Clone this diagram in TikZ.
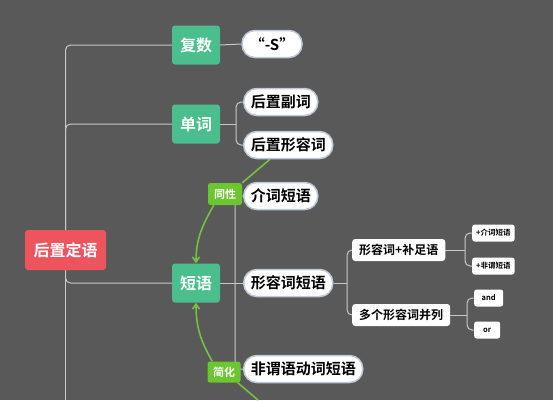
\documentclass[tikz,border=0pt]{standalone}
\usepackage{fontspec}
\setmainfont{Noto Sans CJK SC}[BoldFont={Noto Sans CJK SC Bold}]
\usetikzlibrary{calc,backgrounds,arrows.meta}
\definecolor{bg}{RGB}{89,89,89}
\definecolor{rootred}{RGB}{238,84,94}
\definecolor{catgreen}{RGB}{74,190,140}
\definecolor{taggreen}{RGB}{108,198,48}
\definecolor{linegreen}{RGB}{118,192,66}
\definecolor{conngray}{RGB}{200,200,200}
\definecolor{pillborder}{RGB}{190,200,214}
\tikzset{
  rootbox/.style={fill=rootred,rounded corners=3pt,text=white,font=\bfseries\fontsize{16}{16}\selectfont,minimum width=81pt,minimum height=40pt,inner sep=0pt},
  catbox/.style={fill=catgreen,rounded corners=3pt,text=white,font=\bfseries\fontsize{16}{16}\selectfont,minimum width=48pt,minimum height=39pt,inner sep=0pt},
  pill/.style={fill=white,draw=pillborder,line width=1.5pt,rounded corners=13pt,text=black,font=\bfseries\fontsize{15}{15}\selectfont,minimum height=27pt,inner xsep=7pt,inner ysep=0pt},
  midbox/.style={fill=white,rounded corners=3pt,text=black,font=\bfseries\fontsize{12}{12}\selectfont,minimum height=22pt,inner xsep=7pt,inner ysep=0pt},
  tinybox/.style={fill=white,rounded corners=2.5pt,text=black,font=\bfseries\fontsize{7.5}{7.5}\selectfont,minimum height=17pt,inner xsep=4pt,inner ysep=0pt,anchor=west},
  tagbox/.style={fill=taggreen,rounded corners=2.5pt,text=white,font=\bfseries\fontsize{11}{11}\selectfont,minimum width=34pt,minimum height=22pt,inner sep=0pt},
  conn/.style={draw=conngray,line width=1pt,rounded corners=5pt},
  gline/.style={draw=linegreen,line width=1.6pt}
}
\begin{document}
\begin{tikzpicture}[x=1pt,y=-1pt]
\useasboundingbox (0,0) rectangle (553,400);

% nodes
\node[rootbox] (root) at (65.5,250) {后置定语};
\node[catbox] (fushu) at (196,45) {复数};
\node[catbox] (danci) at (196,124) {单词};
\node[catbox] (duanyu) at (196,283) {短语};

\node[pill,minimum width=60pt] (s) at (272,44) {“-S”};
\node[pill,anchor=west] (houfu) at (243,102) {后置副词};
\node[pill,anchor=west] (houxing) at (243,145) {后置形容词};
\node[pill,anchor=west] (jieci) at (243,196) {介词短语};
\node[pill,anchor=west] (xingrong) at (243,283) {形容词短语};
\node[pill,anchor=west] (feiwei) at (243,369) {非谓语动词短语};

\node[midbox,anchor=west] (bu) at (352,250) {形容词+补足语};
\node[midbox,anchor=west] (duo) at (352,315) {多个形容词并列};

\node[tinybox] (jie2) at (472,233) {+介词短语};
\node[tinybox] (fei2) at (472,266) {+非谓短语};
\node[tinybox,minimum width=29pt] (and) at (474,298) {and};
\node[tinybox,minimum width=26pt] (or) at (474,330) {or};

\coordinate (tongc) at (225,194);
\coordinate (jianc) at (224,372);
\coordinate (rootend) at (65.5,400);
\coordinate (dc) at (236,124);
\coordinate (dj) at (235,283);
\coordinate (x1) at (347,283);
\coordinate (x2) at (465,250);
\coordinate (x3) at (467,315);
\coordinate (gbottom) at (258,400);

\begin{scope}[on background layer]
\fill[bg] (0,0) rectangle (553,400);
\draw[conn] (fushu.west) -| (root.center);
\draw[conn] (danci.west) -| (root.center);
\draw[conn] (duanyu.west) -| (root.center);
\draw[conn] (root.center) -- (rootend);
\draw[conn] (fushu.east) -- (s.west);
\draw[conn] (danci.east) -- (dc);
\draw[conn] (houfu.west) -| (dc) |- (houxing.west);
\draw[conn] (duanyu.east) -- (xingrong.west);
\draw[conn] (jieci.west) -| (dj) |- (feiwei.west);
\draw[conn] (xingrong.east) -- (x1);
\draw[conn] (bu.west) -| (x1) |- (duo.west);
\draw[conn] (bu.east) -- (x2);
\draw[conn] (jie2.west) -| (x2) |- (fei2.west);
\draw[conn] (duo.east) -- (x3);
\draw[conn] (and.west) -| (x3) |- (or.west);
\end{scope}

% green relation tags and curves
\node[tagbox] (tong) at (tongc) {同性};
\node[tagbox,minimum width=33pt,minimum height=21pt] (jian) at (jianc) {简化};
\begin{scope}[on background layer]
\draw[gline] ($(houxing.south west)+(27,0)$) -- (tong.north east);
\draw[gline,-{Straight Barb[length=5pt,width=7pt]}] ($(tong.south west)+(6,0)$) to[out=240,in=90] (duanyu.north);
\draw[gline] ($(jian.south east)+(-3,0)$) -- (gbottom);
\draw[gline,-{Straight Barb[length=5pt,width=7pt]}] ($(jian.north west)+(5,0)$) to[out=120,in=270] (duanyu.south);
\end{scope}
\end{tikzpicture}
\end{document}
